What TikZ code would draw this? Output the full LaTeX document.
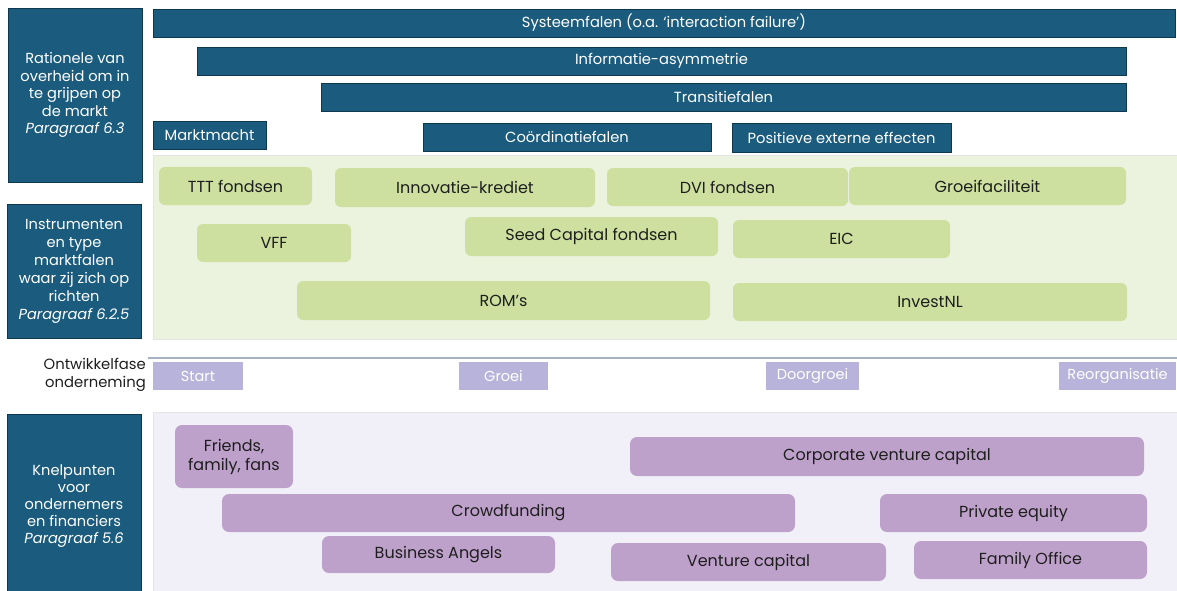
\documentclass[tikz,border=0pt]{standalone}
\usepackage{fontspec}
\setmainfont{Poppins}
\definecolor{darkblue}{HTML}{1A5B7E}
\definecolor{darkedge}{HTML}{0E3850}
\definecolor{greenbg}{HTML}{EBF2DE}
\definecolor{greenbox}{HTML}{CDE09F}
\definecolor{phasecol}{HTML}{B8B3DA}
\definecolor{purplebox}{HTML}{BEA1CB}
\definecolor{purplebg}{HTML}{F1F0F8}
\definecolor{linecol}{HTML}{A4B2C2}
\definecolor{txt}{HTML}{1E1E1E}
\tikzset{
  box/.style={anchor=north west, inner sep=0pt, outer sep=0pt, align=center},
  bluebar/.style={box, fill=darkblue, draw=darkedge, line width=0.8pt, text=white, font=\fontsize{14.7}{17}\selectfont},
  sidebox/.style={box, fill=darkblue, draw=darkedge, line width=0.8pt},
  sidetext/.style={text=white, align=center, font=\fontsize{14.6}{17.5}\selectfont, inner sep=0pt},
  gbox/.style={box, fill=greenbox, rounded corners=6pt, text=txt, font=\fontsize{16}{18}\selectfont},
  pbox/.style={box, fill=purplebox, rounded corners=7pt, text=txt, font=\fontsize{16}{19}\selectfont},
  phase/.style={box, fill=phasecol, text=white, font=\fontsize{14.5}{16}\selectfont},
  panel/.style={box, draw=black!10, line width=0.6pt}
}
\newcommand{\bx}[6]{\node[#1, minimum width=#4-#2, minimum height=#5-#3] (#6) at (#2,#3)}
\begin{document}
\begin{tikzpicture}[x=1pt,y=-1pt]
\useasboundingbox (0,0) rectangle (1177,591);
\begin{scope}
\clip (0,0) rectangle (1177,591);
% left boxes
\bx{sidebox}{8}{8}{142}{182}{s1} {};
\node[sidetext] (t1) at (75,95) {Rationele van\\overheid om in\\te grijpen op\\de markt\\\textit{Paragraaf 6.3}};
\bx{sidebox}{7}{204}{141}{338}{s2} {};
\node[sidetext, font=\fontsize{14.6}{18}\selectfont] (t2) at (74,271) {Instrumenten\\en type\\marktfalen\\waar zij zich op\\richten\\\textit{Paragraaf 6.2.5}};
\bx{sidebox}{7}{414}{141}{600}{s3} {};
\node[sidetext, font=\fontsize{14.6}{17}\selectfont] (t3) at (74,506) {Knelpunten\\voor\\ondernemers\\en financiers\\\textit{Paragraaf 5.6}};
\node[anchor=east, align=right, inner sep=0pt, text=txt, font=\fontsize{14.8}{18}\selectfont] (ontw) at (146,375) {Ontwikkelfase\\onderneming};

% top bars
\bx{bluebar}{153}{9}{1175}{37}{sys} {Systeemfalen (o.a. ‘interaction failure’)};
\bx{bluebar}{197}{47}{1126}{75}{info} {Informatie-asymmetrie};
\bx{bluebar}{321}{83}{1126}{111}{trans} {Transitiefalen};
\bx{bluebar}{153}{121}{266}{149}{markt} {Marktmacht};
\bx{bluebar}{423}{123}{711}{151}{coord} {Coördinatiefalen};
\bx{bluebar}{732}{123}{951}{152}{pos} {Positieve externe effecten};

% green panel
\bx{panel, fill=greenbg}{153}{155}{1177}{339}{gpanel} {};
\bx{gbox}{159}{167}{312}{205}{ttt} {TTT fondsen};
\bx{gbox}{335}{168}{595}{207}{innov} {Innovatie-krediet};
\bx{gbox}{607}{168}{848}{206}{dvi} {DVI fondsen};
\bx{gbox}{849}{167}{1126}{205}{groei} {Groeifaciliteit};
\bx{gbox}{197}{224}{351}{262}{vff} {VFF};
\bx{gbox}{465}{217}{718}{256}{seed} {Seed Capital fondsen};
\bx{gbox}{733}{220}{950}{258}{eic} {EIC};
\bx{gbox}{297}{281}{710}{320}{rom} {ROM’s};
\bx{gbox}{733}{283}{1127}{321}{invest} {InvestNL};

% phase row
\coordinate (la) at (148,358);
\coordinate (lb) at (1177,358);
\draw[linecol, line width=1.5pt] (la) -- (lb);
\bx{phase}{153}{362}{243}{390}{start} {Start};
\bx{phase}{459}{362}{548}{390}{pgroei} {Groei};
\bx{phase}{766}{362}{859}{390}{doorg} {Doorgroei};
\bx{phase}{1059}{362}{1176}{390}{reorg} {Reorganisatie};

% purple panel
\bx{panel, fill=purplebg}{153}{412}{1177}{600}{ppanel} {};
\bx{pbox}{175}{425}{293}{488}{fff} {Friends,\\family, fans};
\bx{pbox}{630}{437}{1144}{476}{cvc} {Corporate venture capital};
\bx{pbox}{222}{494}{795}{532}{crowd} {Crowdfunding};
\bx{pbox}{880}{494}{1147}{532}{pe} {Private equity};
\bx{pbox}{322}{536}{555}{573}{ba} {Business Angels};
\bx{pbox}{611}{543}{886}{581}{vc} {Venture capital};
\bx{pbox}{914}{541}{1147}{579}{fo} {Family Office};
\end{scope}
\end{tikzpicture}
\end{document}
